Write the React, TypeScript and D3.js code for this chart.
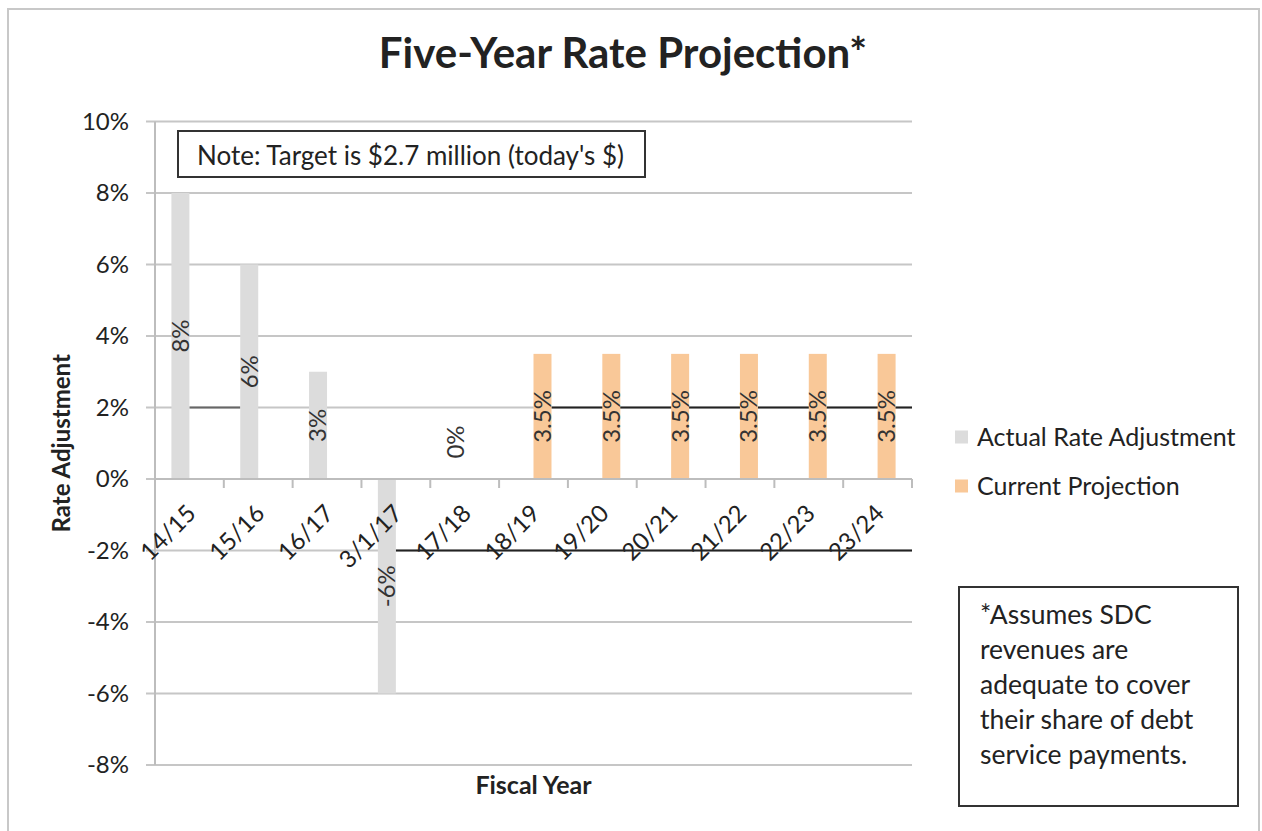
import React from "react";
import * as d3 from "d3";

const categories = ["14/15", "15/16", "16/17", "3/1/17", "17/18", "18/19", "19/20", "20/21", "21/22", "22/23", "23/24"];
const actualValues: (number | null)[] = [0.08, 0.06, 0.03, -0.06, 0, null, null, null, null, null, null];
const projectionValues: (number | null)[] = [null, null, null, null, null, 0.035, 0.035, 0.035, 0.035, 0.035, 0.035];
const seriesNames = ["Actual Rate Adjustment", "Current Projection"];
const seriesColors = ["#dcdcdc", "#f9c898"];
const yTicks = [-0.08, -0.06, -0.04, -0.02, 0, 0.02, 0.04, 0.06, 0.08, 0.1];
// dark reference segments: value, start category (+side), end category (+side) or null => to plot end
const refLines = [
  { value: 0.02, from: "14/15", fromSide: 0.5, to: "15/16", toSide: 0, color: "#666" },
  { value: 0.02, from: "18/19", fromSide: 1, to: null, toSide: 0, color: "#222" },
  { value: -0.02, from: "3/1/17", fromSide: 0.5, to: null, toSide: 0, color: "#222" },
];
const footnoteLines = ["*Assumes SDC", "revenues are", "adequate to cover", "their share of debt", "service payments."];

const W = 1262;
const H = 831;
const FONT = "Lato, 'Open Sans', sans-serif";

export default function App() {
  const left = 155, right = 912, top = 121.5, bottom = 765;
  const y = d3.scaleLinear().domain([-0.08, 0.1]).range([bottom, top]);
  const x0 = d3.scaleBand<string>().domain(categories).range([left, right]).paddingInner(0.477).paddingOuter(0.2385);
  const x1 = d3.scaleBand<string>().domain(seriesNames).range([0, x0.bandwidth()]);
  const step = x0.step();
  const fmt = (v: number) => `${+(v * 100).toFixed(1)}%`;
  const y0 = y(0);

  const series = [actualValues, projectionValues];

  return (
    <svg width={W} height={H} style={{ position: "absolute", left: 0, top: 0, background: "#fff" }} fontFamily={FONT}>
      <rect x={8} y={9} width={1251} height={825} fill="#fff" stroke="#c8c8c8" strokeWidth={2} />
      {/* title */}
      <text x={623} y={68} textAnchor="middle" fontSize={42} fontWeight="bold" fill="#222">Five-Year Rate Projection*</text>

      {/* gridlines and y ticks */}
      {yTicks.map((t) => (
        <g key={t}>
          <line x1={146} x2={right} y1={y(t)} y2={y(t)} stroke="#c6c6c6" strokeWidth={2} />
          <text x={129} y={y(t)} dy="0.35em" textAnchor="end" fontSize={24} fill="#222">{`${Math.round(t * 100)}%`}</text>
        </g>
      ))}
      {/* y axis line */}
      <line x1={left} x2={left} y1={top} y2={bottom} stroke="#bdbdbd" strokeWidth={2} />

      {/* dark reference segments */}
      {refLines.map((r, i) => {
        const xa = (x0(r.from) as number) + x0.bandwidth() * r.fromSide;
        const xb = r.to ? (x0(r.to) as number) + x0.bandwidth() * r.toSide : right;
        return <line key={i} x1={xa} x2={xb} y1={y(r.value)} y2={y(r.value)} stroke={r.color} strokeWidth={2} />;
      })}

      {/* bars */}
      {series.map((vals, si) =>
        vals.map((v, ci) => {
          if (v === null) return null;
          const bx = (x0(categories[ci]) as number) + (x1(seriesNames[si]) as number);
          const bw = x1.bandwidth();
          return (
            <rect key={`${si}-${ci}`} x={bx} y={Math.min(y(v), y0)} width={bw} height={Math.abs(y(v) - y0)} fill={seriesColors[si]} />
          );
        })
      )}

      {/* x axis */}
      <line x1={left} x2={right} y1={y0} y2={y0} stroke="#bdbdbd" strokeWidth={2} />
      {categories.map((c, i) => (
        <line key={c} x1={left + step * (i + 1)} x2={left + step * (i + 1)} y1={y0} y2={y0 + 9} stroke="#bdbdbd" strokeWidth={2} />
      ))}
      {categories.map((c) => {
        const cx = (x0(c) as number) + x0.bandwidth() / 2;
        return (
          <text key={c} transform={`translate(${cx + 2},${y0 + 30}) rotate(-45)`} dy="0.35em" textAnchor="end" fontSize={24} fill="#222">{c}</text>
        );
      })}

      {/* data labels */}
      {series.map((vals, si) =>
        vals.map((v, ci) => {
          if (v === null) return null;
          const bx = (x0(categories[ci]) as number) + (x1(seriesNames[si]) as number) + x1.bandwidth() / 2;
          const ly = v === 0 ? y0 - 37 : y(v / 2);
          return (
            <text key={`l${si}-${ci}`} transform={`translate(${bx},${ly}) rotate(-90)`} dy="0.35em" textAnchor="middle" fontSize={24} fill="#333">{fmt(v)}</text>
          );
        })
      )}

      {/* axis titles */}
      <text transform={`translate(62,${(top + bottom) / 2}) rotate(-90)`} dy="0.35em" textAnchor="middle" fontSize={24} fontWeight="bold" fill="#222">Rate Adjustment</text>
      <text x={(left + right) / 2} y={794} textAnchor="middle" fontSize={25} fontWeight="bold" fill="#222">Fiscal Year</text>

      {/* note box */}
      <rect x={178} y={131} width={467} height={46} fill="#fff" stroke="#333" strokeWidth={2} />
      <text x={197} y={156} dy="0.35em" fontSize={26} fill="#222">Note: Target is $2.7 million (today's $)</text>

      {/* legend */}
      {seriesNames.map((n, i) => (
        <g key={n} transform={`translate(955,${437 + i * 49})`}>
          <rect x={0} y={-6.5} width={13} height={13} fill={seriesColors[i]} />
          <text x={22} y={0} dy="0.35em" fontSize={25} fill="#222">{n}</text>
        </g>
      ))}

      {/* footnote box */}
      <rect x={959} y={587} width={279} height={219} fill="#fff" stroke="#333" strokeWidth={2} />
      {footnoteLines.map((l, i) => (
        <text key={i} x={980} y={615 + i * 35} dy="0.35em" fontSize={26.5} fill="#222">{l}</text>
      ))}
    </svg>
  );
}
